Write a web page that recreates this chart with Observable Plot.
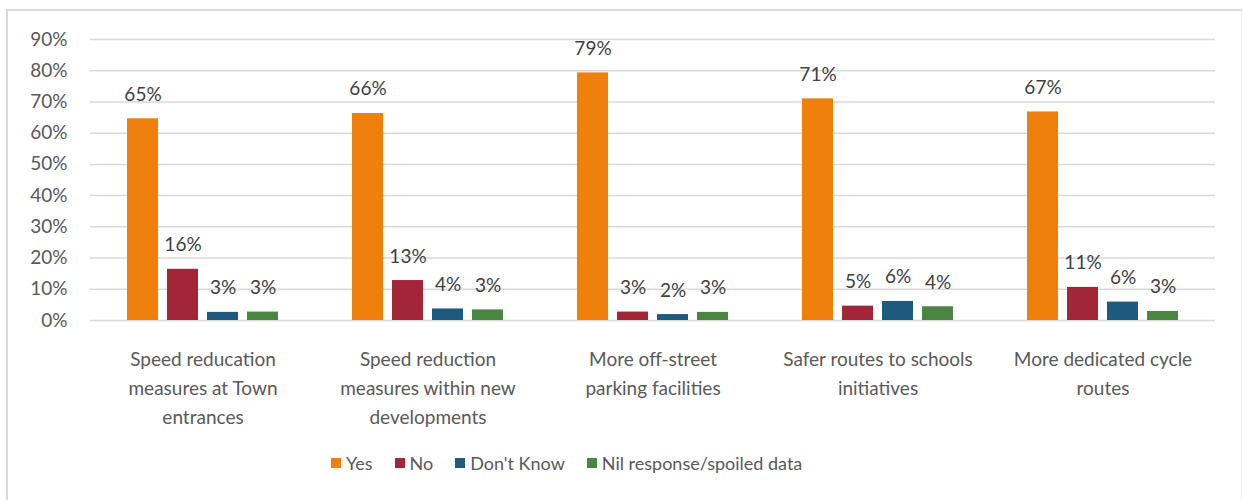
<!DOCTYPE html>
<html>
<head>
<meta charset="utf-8">
<script src="https://cdn.jsdelivr.net/npm/d3@7"></script>
<script src="https://cdn.jsdelivr.net/npm/@observablehq/plot@0.6"></script>
<style>
  html, body { margin: 0; padding: 0; background: #fff; }
  body { width: 1244px; height: 500px; position: relative; overflow: hidden; font-family: Lato, "Open Sans", sans-serif; }
  #frame { position: absolute; left: 6px; top: 9px; width: 1236px; height: 500px; border-left: 2px solid #d9d9d9; border-top: 2px solid #d9d9d9; border-right: 1px solid #eeeeee; box-sizing: border-box; }
  #chart { position: absolute; left: 0; top: 0; }
  #legend { position: absolute; left: 331px; top: 452px; display: flex; justify-content: flex-start; gap: 22px; font-size: 18px; color: #595959; }
  #legend .item { display: flex; align-items: center; gap: 5px; }
  #legend .sw { width: 10px; height: 10px; display: inline-block; }
</style>
</head>
<body>
<div id="frame"></div>
<div id="chart"></div>
<div id="legend"></div>
<script>
const categories = [
  "Speed reducation measures at Town entrances",
  "Speed reduction measures within new developments",
  "More off-street parking facilities",
  "Safer routes to schools initiatives",
  "More dedicated cycle routes"
];
const categoryLabels = [
  "Speed reducation\nmeasures at Town\nentrances",
  "Speed reduction\nmeasures within new\ndevelopments",
  "More off-street\nparking facilities",
  "Safer routes to schools\ninitiatives",
  "More dedicated cycle\nroutes"
];
const seriesNames = ["Yes", "No", "Don't Know", "Nil response/spoiled data"];
const yesValues = [64.6, 66.3, 79.3, 71.0, 66.8];
const noValues = [16.4, 12.8, 2.7, 4.6, 10.6];
const dontKnowValues = [2.6, 3.7, 1.9, 6.1, 5.9];
const nilValues = [2.7, 3.4, 2.6, 4.4, 2.9];
const seriesColors = ["#EF800B", "#A32638", "#1D5A7E", "#4A8641"];
const yTicks = [0, 10, 20, 30, 40, 50, 60, 70, 80, 90];

const seriesValues = [yesValues, noValues, dontKnowValues, nilValues];
const data = categories.flatMap((c, i) =>
  seriesNames.map((s, j) => ({category: c, series: s, value: seriesValues[j][i]}))
);
const labelOf = new Map(categories.map((c, i) => [c, categoryLabels[i]]));

const chart = Plot.plot({
  width: 1244,
  height: 430,
  marginLeft: 88,
  marginRight: 28,
  marginTop: 39,
  marginBottom: 110,
  style: {fontFamily: "Lato, 'Open Sans', sans-serif", fontSize: "19px", background: "transparent", color: "#595959"},
  fx: {domain: categories, padding: 0, axis: null},
  x: {domain: seriesNames, paddingInner: 0.22, paddingOuter: 0.86, axis: null},
  y: {domain: [0, 90], axis: null},
  color: {domain: seriesNames, range: seriesColors},
  marks: [
    Plot.gridY(yTicks, {stroke: "#d9d9d9", strokeOpacity: 1, strokeWidth: 1.5}),
    Plot.axisY({ticks: yTicks, tickFormat: d => d + "%", tickSize: 0, tickPadding: 23, fontSize: 19, fill: "#595959", label: null}),
    Plot.axisFx({anchor: "bottom", tickSize: 0, tickPadding: 25, lineHeight: 1.53, fontSize: 19, fill: "#595959", label: null, tickFormat: d => labelOf.get(d)}),
    Plot.barY(data, {fx: "category", x: "series", y: "value", fill: "series"}),
    Plot.text(data, {fx: "category", x: "series", y: "value", text: d => Math.round(d.value) + "%", lineAnchor: "bottom", dy: -18, fontSize: 19, fill: "#404040"})
  ]
});
document.getElementById("chart").appendChild(chart);

const legend = document.getElementById("legend");
seriesNames.forEach((s, i) => {
  const item = document.createElement("div");
  item.className = "item";
  const sw = document.createElement("span");
  sw.className = "sw";
  sw.style.background = seriesColors[i];
  const t = document.createElement("span");
  t.textContent = s;
  item.appendChild(sw);
  item.appendChild(t);
  legend.appendChild(item);
});
</script>
</body>
</html>
